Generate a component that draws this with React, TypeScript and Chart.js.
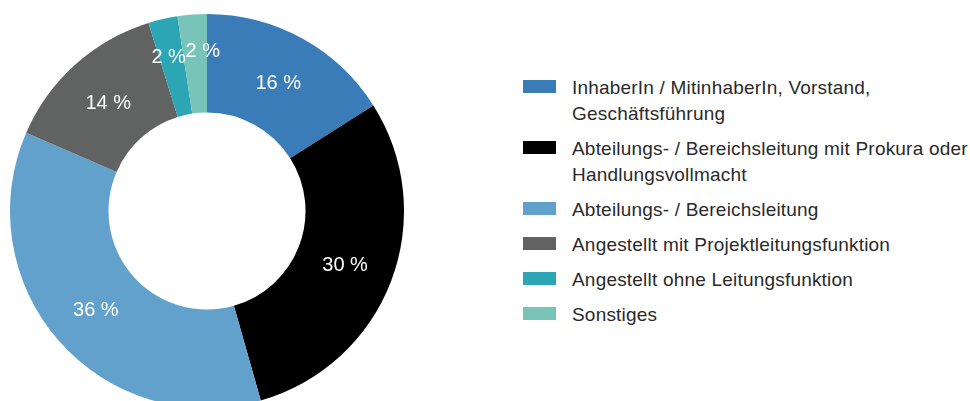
import React, { useEffect, useRef } from "react";
import { Chart, registerables } from "chart.js";

Chart.register(...registerables);

const categories: string[] = [
  "InhaberIn / MitinhaberIn, Vorstand,\nGeschäftsführung",
  "Abteilungs- / Bereichsleitung mit Prokura oder\nHandlungsvollmacht",
  "Abteilungs- / Bereichsleitung",
  "Angestellt mit Projektleitungsfunktion",
  "Angestellt ohne Leitungsfunktion",
  "Sonstiges",
];
const shares: number[] = [16, 29.6, 35.9, 13.7, 2.4, 2.4];
const shareLabels: string[] = ["16 %", "30 %", "36 %", "14 %", "2 %", "2 %"];
const colors: string[] = ["#3a7cb8", "#000000", "#62a1cb", "#616262", "#2ca6b4", "#79c4b9"];

const FONT = "'Liberation Sans', Arial, Helvetica, sans-serif";

const labelPlugin = {
  id: "sliceLabels",
  afterDatasetsDraw(chart: any) {
    const ctx = chart.ctx;
    const meta = chart.getDatasetMeta(0);
    ctx.save();
    ctx.fillStyle = "#ffffff";
    ctx.font = `20px ${FONT}`;
    ctx.textAlign = "center";
    ctx.textBaseline = "middle";
    meta.data.forEach((arc: any, i: number) => {
      const p = arc.getProps(["x", "y", "startAngle", "endAngle", "innerRadius", "outerRadius"], true);
      const mid = (p.startAngle + p.endAngle) / 2;
      const small = shares[i] < 5;
      const r = small ? p.outerRadius - 35 : (p.innerRadius + p.outerRadius) / 2;
      let x = p.x + Math.cos(mid) * r;
      let y = p.y + Math.sin(mid) * r;
      if (small && i === shares.length - 1) x += 8;
      if (small && i === shares.length - 2) { x -= 2; y += 2; }
      ctx.fillText(shareLabels[i], x, y + 2);
    });
    ctx.restore();
  },
};

export default function App() {
  const canvasRef = useRef<HTMLCanvasElement | null>(null);

  useEffect(() => {
    document.body.style.margin = "0";
    document.documentElement.style.overflow = "hidden";
    document.body.style.overflow = "hidden";
    const chart = new Chart(canvasRef.current as HTMLCanvasElement, {
      type: "doughnut",
      data: {
        labels: categories,
        datasets: [
          {
            data: shares,
            backgroundColor: colors,
            borderWidth: 0,
          },
        ],
      },
      options: {
        animation: false,
        responsive: false,
        cutout: "50%",
        layout: { padding: 0 },
        plugins: {
          legend: { display: false },
          tooltip: { enabled: false },
        },
      },
      plugins: [labelPlugin],
    });
    return () => chart.destroy();
  }, []);

  return (
    <div
      style={{
        position: "relative",
        width: 970,
        height: 401,
        overflow: "hidden",
        background: "#ffffff",
        fontFamily: FONT,
      }}
    >
      <canvas
        ref={canvasRef}
        width={394}
        height={394}
        style={{ position: "absolute", left: 10, top: 14, width: 394, height: 394 }}
      />
      <div style={{ position: "absolute", left: 523, top: 75 }}>
        {categories.map((c, i) => (
          <div key={i} style={{ position: "relative", marginBottom: 9, paddingLeft: 49 }}>
            <span
              style={{
                position: "absolute",
                left: 0,
                top: 5,
                width: 33,
                height: 13,
                background: colors[i],
              }}
            />
            <div
              style={{
                fontSize: 19,
                lineHeight: "26px",
                letterSpacing: "0.2px",
                color: "#2a2a2a",
                whiteSpace: "pre",
              }}
            >
              {c}
            </div>
          </div>
        ))}
      </div>
    </div>
  );
}
